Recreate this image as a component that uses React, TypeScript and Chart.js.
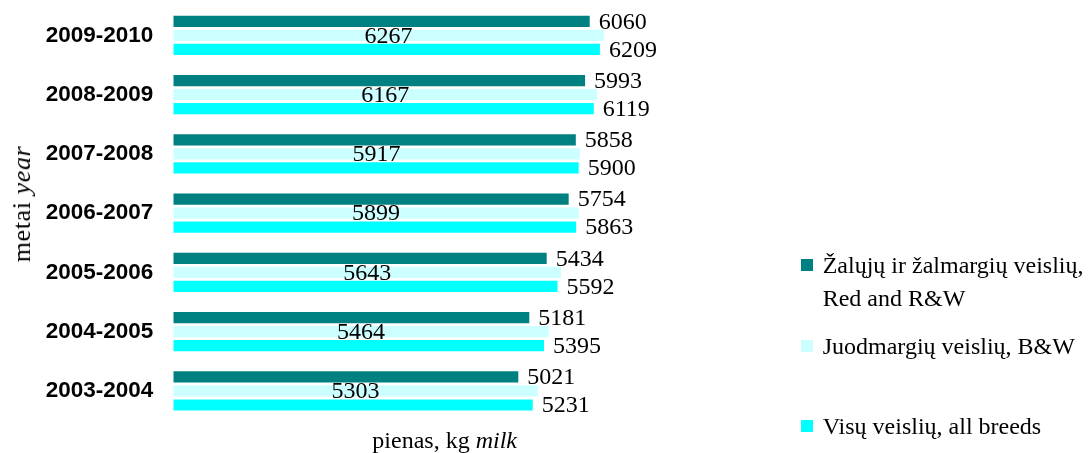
import React, { useEffect, useRef } from "react";
import { Chart, registerables } from "chart.js";

Chart.register(...registerables);

const years = ["2009-2010", "2008-2009", "2007-2008", "2006-2007", "2005-2006", "2004-2005", "2003-2004"];
const redAndRW = [6060, 5993, 5858, 5754, 5434, 5181, 5021];
const blackWhite = [6267, 6167, 5917, 5899, 5643, 5464, 5303];
const allBreeds = [6209, 6119, 5900, 5863, 5592, 5395, 5231];
const seriesNames = ["Žalųjų ir žalmargių veislių,\nRed and R&W", "Juodmargių veislių, B&W", "Visų veislių, all breeds"];
const seriesColors = ["#008080", "#CCFFFF", "#00FFFF"];

const SERIF = "'Liberation Serif', 'Times New Roman', serif";

const valueLabels = {
  id: "valueLabels",
  afterDatasetsDraw(chart: any) {
    const ctx = chart.ctx;
    ctx.save();
    ctx.font = `24px ${SERIF}`;
    ctx.fillStyle = "#000";
    ctx.textBaseline = "middle";
    chart.data.datasets.forEach((ds: any, di: number) => {
      const meta = chart.getDatasetMeta(di);
      meta.data.forEach((el: any, i: number) => {
        const v = ds.data[i];
        const txt = String(v);
        if (di === 1) {
          ctx.textAlign = "center";
          ctx.fillText(txt, (el.x + el.base) / 2, el.y + 1);
        } else {
          ctx.textAlign = "left";
          ctx.fillText(txt, el.x + 9, el.y + 1);
        }
      });
    });
    ctx.restore();
  },
};

export default function App() {
  const ref = useRef<HTMLCanvasElement | null>(null);
  useEffect(() => {
    if (!ref.current) return;
    const chart = new Chart(ref.current, {
      type: "bar",
      data: {
        labels: years,
        datasets: [
          { label: seriesNames[0], data: redAndRW, backgroundColor: seriesColors[0] },
          { label: seriesNames[1], data: blackWhite, backgroundColor: seriesColors[1] },
          { label: seriesNames[2], data: allBreeds, backgroundColor: seriesColors[2] },
        ],
      },
      options: {
        indexAxis: "y",
        responsive: false,
        animation: false,
        layout: { padding: { left: 0, right: 368, top: 5.7, bottom: 32.4 } },
        datasets: { bar: { categoryPercentage: 0.71, barPercentage: 0.8 } },
        plugins: { legend: { display: false }, tooltip: { enabled: false } },
        scales: {
          x: { display: false, min: 0, max: 8000 },
          y: {
            grid: { display: false, drawTicks: false },
            border: { display: false },
            ticks: {
              color: "#000",
              padding: 20,
              font: { family: "'Liberation Sans', Arial, sans-serif", size: 22.5, weight: "bold" },
            },
            afterFit(scale: any) {
              scale.width = 173.3;
              scale.paddingTop = 0;
              scale.paddingBottom = 0;
            },
          },
        },
      },
      plugins: [valueLabels],
    });
    return () => chart.destroy();
  }, []);

  const legendTops = [248.5, 329.5, 409.5];
  return (
    <div style={{ position: "absolute", left: 0, top: 0, width: 1091, height: 453, background: "#fff" }}>
      <canvas ref={ref} width={1091} height={453} style={{ position: "absolute", left: 0, top: 0 }} />
      <div
        style={{
          position: "absolute",
          left: 22,
          top: 204,
          transform: "translate(-50%, -50%) rotate(-90deg)",
          whiteSpace: "nowrap",
          fontFamily: SERIF,
          fontSize: 26,
          letterSpacing: 0.6,
          color: "#000",
        }}
      >
        metai <i>year</i>
      </div>
      <div
        style={{
          position: "absolute",
          left: 444.7,
          top: 427,
          transform: "translateX(-50%)",
          whiteSpace: "nowrap",
          fontFamily: SERIF,
          fontSize: 24,
          lineHeight: "27px",
          color: "#000",
        }}
      >
        pienas, kg <i>milk</i>
      </div>
      {seriesNames.map((name, i) => (
        <div key={i}>
          <div
            style={{
              position: "absolute",
              left: 800.7,
              top: legendTops[i] + 16.5 - 6.3,
              width: 12.6,
              height: 12.6,
              background: seriesColors[i],
            }}
          />
          <div
            style={{
              position: "absolute",
              left: 822.7,
              top: legendTops[i],
              fontFamily: SERIF,
              fontSize: 24,
              lineHeight: "33px",
              whiteSpace: "pre",
              color: "#000",
            }}
          >
            {name}
          </div>
        </div>
      ))}
    </div>
  );
}
